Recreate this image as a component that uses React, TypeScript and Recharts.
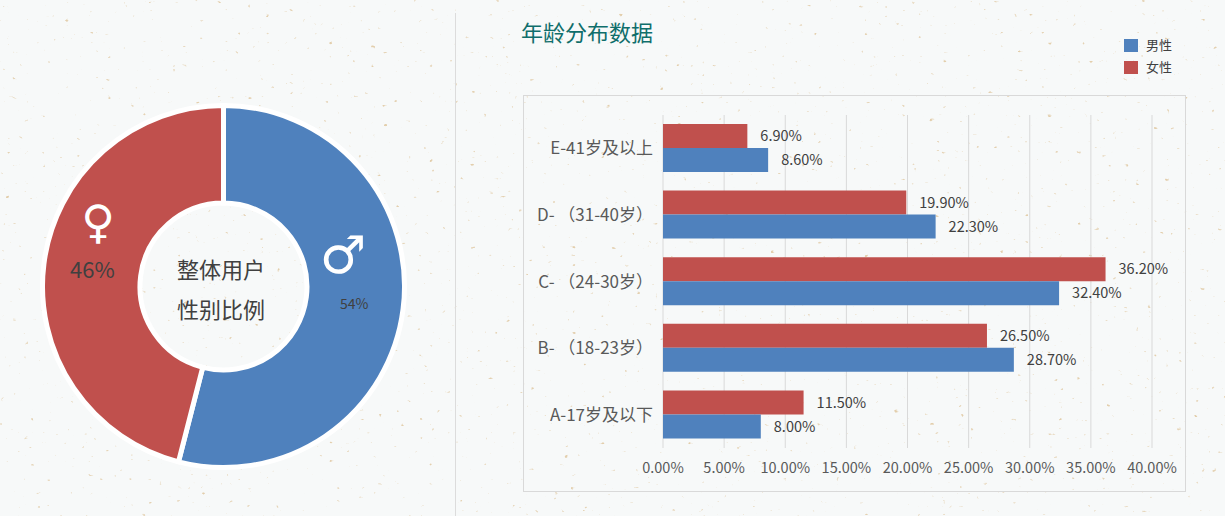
import React from "react";
import { BarChart, Bar, XAxis, YAxis, CartesianGrid, LabelList, PieChart, Pie, Cell } from "recharts";

const ageGroups = ["E-41岁及以上", "D- （31-40岁）", "C- （24-30岁）", "B- （18-23岁）", "A-17岁及以下"];
const maleShare = [8.6, 22.3, 32.4, 28.7, 8.0];
const femaleShare = [6.9, 19.9, 36.2, 26.5, 11.5];
const percentTicks = [0, 5, 10, 15, 20, 25, 30, 35, 40];

const genderNames = ["男性", "女性"];
const genderTotals = [54, 46];

const BLUE = "#4f81bd";
const RED = "#c0504d";
const FONT = '"Noto Sans CJK SC", "Noto Sans", sans-serif';

const ageData = ageGroups.map((group, i) => ({ group, male: maleShare[i], female: femaleShare[i] }));
const genderData = genderNames.map((name, i) => ({ name, value: genderTotals[i] }));
const genderColors = [BLUE, RED];

const formatPercent = (v: number) => `${v.toFixed(2)}%`;

const place = (left: number, top: number, extra: React.CSSProperties = {}): React.CSSProperties => ({
  position: "absolute",
  left,
  top,
  whiteSpace: "nowrap",
  ...extra,
});

// tan flecks of the paper background
const PaperTexture = () => (
  <svg width={1225} height={516} style={{ position: "absolute", left: 0, top: 0 }}>
    <filter id="flecks" x="0" y="0" width="100%" height="100%" colorInterpolationFilters="sRGB">
      <feTurbulence type="fractalNoise" baseFrequency="0.17 0.22" numOctaves={2} seed={11} />
      <feColorMatrix
        type="matrix"
        values="0 0 0 0 0.89  0 0 0 0 0.81  0 0 0 0 0.68  8 0 0 0 -6.05"
      />
    </filter>
    <rect width={1225} height={516} filter="url(#flecks)" />
  </svg>
);

export default function App() {
  return (
    <div
      style={{
        position: "absolute",
        left: 0,
        top: 0,
        width: 1225,
        height: 516,
        overflow: "hidden",
        background: "#f7f9f9",
        fontFamily: FONT,
      }}
    >
      <PaperTexture />

      {/* divider between the two panels */}
      <div style={place(455, 13, { width: 1, height: 503, background: "#dcdcdc" })} />

      <div style={place(0, 0)}>
        <PieChart width={447} height={516} margin={{ top: 0, right: 0, bottom: 0, left: 0 }}>
          <Pie
            data={genderData}
            dataKey="value"
            nameKey="name"
            cx={223.5}
            cy={286.5}
            innerRadius={83.5}
            outerRadius={181}
            startAngle={90}
            endAngle={-270}
            stroke="#ffffff"
            strokeWidth={5}
            isAnimationActive={false}
          >
            {genderData.map((entry, index) => (
              <Cell key={entry.name} fill={genderColors[index]} />
            ))}
          </Pie>
        </PieChart>
      </div>

      <div style={place(177, 252, { fontSize: 22, lineHeight: "32px", color: "#404040" })}>整体用户</div>
      <div style={place(177, 292, { fontSize: 22, lineHeight: "32px", color: "#404040" })}>性别比例</div>
      <div style={place(70, 252, { fontSize: 22, lineHeight: "32px", color: "#404040" })}>46%</div>
      <div style={place(340, 293, { fontSize: 14, lineHeight: "20px", color: "#404040" })}>54%</div>
      <div style={place(78, 194, { width: 40, textAlign: "center", fontFamily: "DejaVu Sans", fontSize: 46, lineHeight: "56px", color: "#fff" })}>♀</div>
      <div style={place(318, 227, { width: 50, textAlign: "center", fontFamily: "DejaVu Sans", fontSize: 52, lineHeight: "56px", color: "#fff" })}>♂</div>

      <div style={place(521, 15, { fontSize: 22, lineHeight: "32px", color: "#0f6e6b" })}>年龄分布数据</div>

      {genderNames.map((name, i) => (
        <React.Fragment key={name}>
          <div style={place(1124, 39 + i * 22, { width: 14, height: 13, background: genderColors[i] })} />
          <div style={place(1146, 36 + i * 22, { fontSize: 13, lineHeight: "18px", color: "#404040" })}>{name}</div>
        </React.Fragment>
      ))}

      <div style={place(523, 95, { width: 661, height: 395, border: "1px solid #d9d9d9" })} />

      <div style={place(523, 95)}>
        <BarChart
          width={663}
          height={397}
          data={ageData}
          layout="vertical"
          margin={{ top: 20, right: 34, bottom: 0, left: 0 }}
          barGap={0}
          barCategoryGap={9}
        >
          <CartesianGrid horizontal={false} stroke="#d9d9d9" />
          <XAxis
            type="number"
            domain={[0, 40]}
            ticks={percentTicks}
            tickFormatter={formatPercent}
            height={44}
            axisLine={false}
            tickLine={false}
            tickSize={0}
            tickMargin={15}
            interval={0}
            tick={{ fontSize: 14.5, fill: "#595959", fontFamily: FONT }}
          />
          <YAxis
            type="category"
            dataKey="group"
            width={140}
            axisLine={false}
            tickLine={false}
            tickSize={0}
            tickMargin={10}
            interval={0}
            tick={{ fontSize: 17, fill: "#595959", fontFamily: FONT }}
          />
          <Bar dataKey="female" fill={RED} isAnimationActive={false}>
            <LabelList dataKey="female" position="right" offset={13} formatter={formatPercent} fontSize={14.5} fill="#404040" fontFamily={FONT} />
          </Bar>
          <Bar dataKey="male" fill={BLUE} isAnimationActive={false}>
            <LabelList dataKey="male" position="right" offset={13} formatter={formatPercent} fontSize={14.5} fill="#404040" fontFamily={FONT} />
          </Bar>
        </BarChart>
      </div>
    </div>
  );
}
